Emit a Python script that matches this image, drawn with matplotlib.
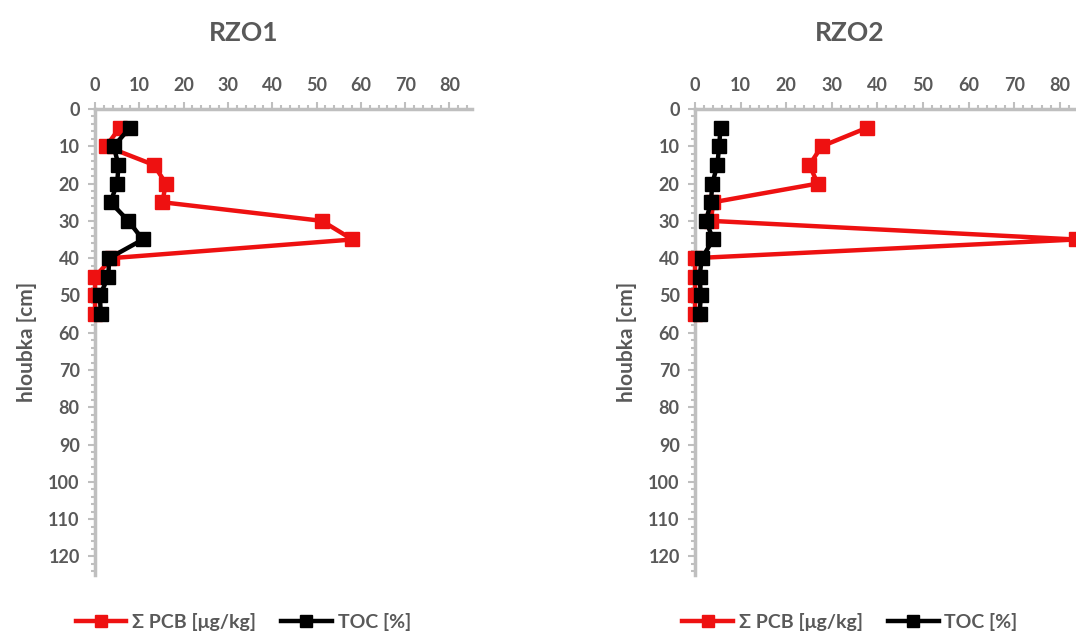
import numpy as np
import matplotlib
matplotlib.use("Agg")
from matplotlib import pyplot as plt
from matplotlib.ticker import MultipleLocator

plt.rcParams['font.family'] = ['Lato', 'DejaVu Sans']
plt.rcParams['font.weight'] = 'bold'

depth = [5, 10, 15, 20, 25, 30, 35, 40, 45, 50, 55]

# RZO1
pcb_rzo1 = [5.6, 2.5, 13.3, 16.0, 15.2, 51.2, 58.1, 3.8, 0.0, 0.0, 0.0]
toc_rzo1 = [7.9, 4.2, 5.3, 5.0, 3.5, 7.5, 10.8, 3.2, 3.0, 1.1, 1.3]

# RZO2
pcb_rzo2 = [37.8, 27.8, 25.1, 26.9, 4.0, 3.5, 83.5, 0.0, 0.0, 0.0, 0.0]
toc_rzo2 = [5.6, 5.3, 4.9, 3.8, 3.5, 2.4, 4.0, 1.5, 1.0, 1.3, 1.0]

titles = ["RZO1", "RZO2"]
x_ticks = [0, 10, 20, 30, 40, 50, 60, 70, 80]
y_ticks = [0, 10, 20, 30, 40, 50, 60, 70, 80, 90, 100, 110, 120]

grey = '#595959'
axis_grey = '#bfbfbf'
red = '#ee1111'

fig = plt.figure(figsize=(10.76, 6.35), dpi=100)

panels = [
    ([0.0883, 0.0945, 0.350, 0.7338], pcb_rzo1, toc_rzo1, 0.226, 0.226),
    ([0.6459, 0.0945, 0.3602, 0.7338], pcb_rzo2, toc_rzo2, 0.79, 0.79),
]

for i, (rect, pcb, toc, title_x, leg_x) in enumerate(panels):
    ax = fig.add_axes(rect)
    ax.plot(pcb, depth, color=red, lw=3.2, marker='s', ms=10,
            label='Σ PCB [μg/kg]', clip_on=False, zorder=3)
    ax.plot(toc, depth, color='black', lw=3.2, marker='s', ms=10,
            label='TOC [%]', clip_on=False, zorder=4)
    ax.set_xlim(0, 85)
    ax.set_ylim(125, 0)
    ax.xaxis.tick_top()
    ax.set_xticks(x_ticks)
    ax.set_yticks(y_ticks)
    ax.xaxis.set_minor_locator(MultipleLocator(2))
    ax.yaxis.set_minor_locator(MultipleLocator(2))
    for s in ['right', 'bottom']:
        ax.spines[s].set_visible(False)
    for s in ['top', 'left']:
        ax.spines[s].set_color(axis_grey)
        ax.spines[s].set_linewidth(2.5)
    ax.tick_params(which='major', length=5, width=1.5, color=axis_grey,
                   labelcolor=grey, labelsize=13, pad=6)
    ax.tick_params(which='minor', length=3, width=1.5, color=axis_grey)
    ax.tick_params(axis='x', which='both', direction='out', top=True, bottom=False)
    for lab in ax.get_xticklabels() + ax.get_yticklabels():
        lab.set_fontweight('bold')
    ax.set_ylabel('hloubka [cm]', color=grey, fontsize=15, fontweight='bold', labelpad=8)
    fig.text(title_x, 0.948, titles[i], ha='center', va='center',
             color=grey, fontsize=19, fontweight='bold')
    fig.legend(handles=ax.get_lines(), loc='center', bbox_to_anchor=(leg_x, 0.02),
               ncol=2, frameon=False, handlelength=2.6, columnspacing=1.3,
               handletextpad=0.3, prop={'size': 14, 'weight': 'bold'},
               labelcolor=grey, markerscale=0.9)

fig.savefig('out.png', dpi=100)
